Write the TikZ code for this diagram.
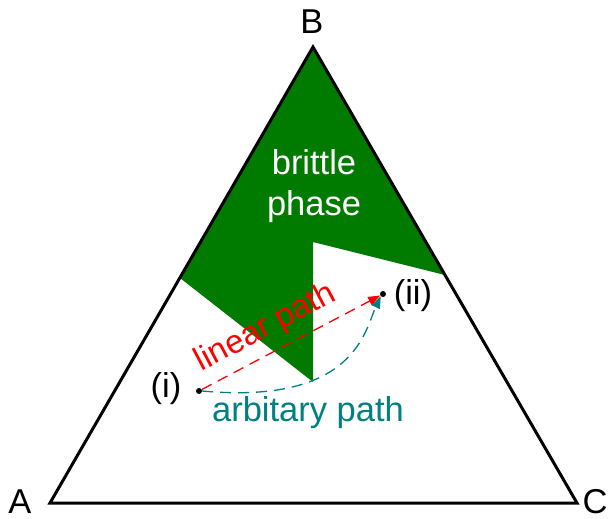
\documentclass[tikz,border=0pt]{standalone}
\usepackage{fontspec}
\setmainfont{Liberation Sans}
\usetikzlibrary{arrows.meta}
\definecolor{phasegreen}{RGB}{0,123,0}
\definecolor{pathteal}{RGB}{0,128,128}
\begin{document}
\begin{tikzpicture}[x=1pt,y=-1pt,
  lbl/.style={font=\fontsize{34.5}{41}\selectfont, inner sep=0pt},
  ptdot/.style={circle, fill=black, inner sep=0pt, minimum size=6pt},
  dashpath/.style={line width=1.3pt, dash pattern=on 11pt off 7pt},
  tip/.style={-{Triangle[length=12pt,width=9pt]}}]
\useasboundingbox (0,0) rectangle (611,519);
\coordinate (A) at (50,503);
\coordinate (B) at (313,47);
\coordinate (C) at (577,503);
\coordinate (gl) at (180,278);
\coordinate (gb) at (313,382);
\coordinate (gt) at (313,242);
\coordinate (gr) at (445,275);
\fill[phasegreen] (B) -- (gl) -- (gb) -- (gt) -- (gr) -- cycle;
\draw[line width=3pt] (A) -- (B) -- (C) -- cycle;
\node[lbl] (la) at (20,502) {A};
\node[lbl] (lb) at (312,22) {B};
\node[lbl] (lc) at (595,502) {C};
\node[lbl, text=white, align=center] (brit) at (314,186) {brittle\\phase};
\node[ptdot] (p1) at (199,391) {};
\node[ptdot] (p2) at (383,294) {};
\node[lbl] (l1) at (166,389) {(i)};
\node[lbl] (l2) at (413,296) {(ii)};
\draw[dashpath, red, tip] (p1) -- (p2);
\draw[dashpath, pathteal, tip] (p1.east) .. controls (355,405) and (365,330) .. (p2.south west);
\node[lbl, font=\fontsize{33}{38}\selectfont, text=red, rotate=28] (lin) at (266,328) {linear path};
\node[lbl, text=pathteal] (arb) at (308,413) {arbitary path};
\end{tikzpicture}
\end{document}
